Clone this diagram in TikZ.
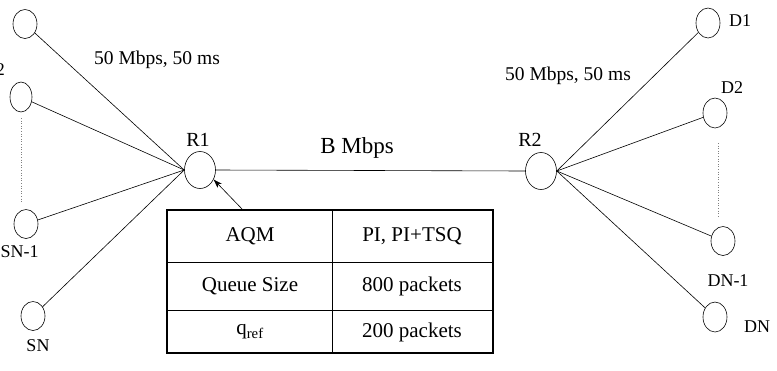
\documentclass[tikz,border=0pt]{standalone}
\usepackage{fontspec}
\setmainfont{Liberation Serif}
\usetikzlibrary{arrows.meta,shapes.geometric}
\begin{document}
\begin{tikzpicture}[x=1pt,y=-1pt,
  host/.style={draw, ellipse, minimum width=24pt, minimum height=29pt, inner sep=0pt, line width=0.6pt},
  router/.style={draw, ellipse, minimum width=31pt, minimum height=37pt, inner sep=0pt, line width=0.6pt},
  link/.style={line width=0.6pt},
  dotline/.style={line width=0.6pt, dotted, gray},
  lbl/.style={font=\fontsize{18}{20}\selectfont, inner sep=0pt},
  rlbl/.style={font=\fontsize{20}{22}\selectfont, inner sep=0pt},
  linklbl/.style={font=\fontsize{19.5}{22}\selectfont, inner sep=0pt},
  cell/.style={font=\fontsize{21}{24}\selectfont, inner sep=0pt},
  tabframe/.style={draw, line width=1.5pt, rectangle, inner sep=0pt, minimum width=326pt, minimum height=143pt},
  tabline/.style={line width=0.8pt}
]
\useasboundingbox (0,0) rectangle (777,370);

% hosts left
\node[host] (S1) at (25,24) {};
\node[host, minimum width=22pt, minimum height=30pt] (S2) at (21,97) {};
\node[host] (SN1) at (26,224) {};
\node[host] (SN) at (33,316) {};
% routers
\node[router] (R1) at (200,170) {};
\node[router] (R2) at (541,171) {};
% hosts right
\node[host, minimum height=30pt] (D1) at (708,23) {};
\node[host, minimum height=30pt] (D2) at (715,113) {};
\node[host] (DN1) at (723,241) {};
\node[host, minimum height=30pt] (DN) at (715,317) {};

% links
\draw[link] (S1) -- (R1.west);
\draw[link] (S2) -- (R1.west);
\draw[link] (SN1) -- (R1.west);
\draw[link] (SN) -- (R1.west);
\draw[link] (R1.east) -- (R2.west);
\draw[link] (R2.east) -- (D1);
\draw[link] (R2.east) -- (D2);
\draw[link] (R2.east) -- (DN1);
\draw[link] (R2.east) -- (DN);

% dotted continuation lines
\coordinate (lda) at (21,118);
\coordinate (ldb) at (21,202);
\coordinate (rda) at (718,143);
\coordinate (rdb) at (718,217);
\draw[dotline] (lda) -- (ldb);
\draw[dotline] (rda) -- (rdb);

% labels
\node[lbl, anchor=east] (lS2) at (5,70) {S2};
\node[lbl, anchor=west] (lSN1) at (0.5,252) {SN-1};
\node[lbl] (lSN) at (38,346) {SN};
\node[rlbl] (lR1) at (198,140) {R1};
\node[rlbl] (lR2) at (530,140) {R2};
\node[lbl] (lD1) at (740,21) {D1};
\node[lbl] (lD2) at (732,88) {D2};
\node[lbl] (lDN1) at (728,281) {DN-1};
\node[lbl] (lDN) at (757,327) {DN};
\node[linklbl] (bw1) at (157,60) {50 Mbps, 50 ms};
\node[linklbl] (bw2) at (568,76) {50 Mbps, 50 ms};
\node[font=\fontsize{23}{26}\selectfont, inner sep=0pt] (bl) at (357,148) {B Mbps};

% table
\node[tabframe] (tab) at (330,281.5) {};
\draw[tabline] (332,210) -- (332,353);
\draw[tabline] (167,262) -- (493,262);
\draw[tabline] (167,310) -- (493,310);
\node[cell] (c11) at (250,236) {AQM};
\node[cell] (c12) at (412,236) {PI, PI+TSQ};
\node[cell] (c21) at (250,286) {Queue Size};
\node[cell] (c22) at (412,286) {800 packets};
\node[cell] (c31) at (250,332) {q\textsubscript{ref}};
\node[cell] (c32) at (412,332) {200 packets};

% arrow from table to R1
\coordinate (tabtop) at (243,210);
\draw[link, -{Stealth[length=9pt,width=6pt]}] (tabtop) -- (R1.-35);
\end{tikzpicture}
\end{document}
